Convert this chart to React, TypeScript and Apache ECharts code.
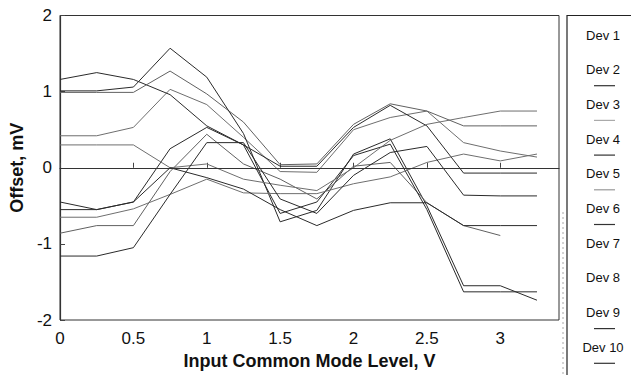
import React, { useEffect, useRef } from "react";
import * as echarts from "echarts";

const xLevels = [0, 0.25, 0.5, 0.75, 1, 1.25, 1.5, 1.75, 2, 2.25, 2.5, 2.75, 3, 3.25];

const dev1 = [0.42, 0.42, 0.53, 1.03, 0.83, 0.4, -0.05, -0.06, 0.5, 0.66, 0.745, 0.33, 0.22, 0.14];
const dev2 = [1.16, 1.25, 1.16, 0.96, 0.55, 0.3, 0.02, 0.02, 0.53, 0.82, 0.55, -0.07, -0.07, -0.07];
const dev3 = [0.99, 0.99, 0.99, 1.27, 0.97, 0.6, 0.04, 0.05, 0.57, 0.84, 0.745, 0.55, 0.55, 0.55];
const dev4 = [1.01, 1.01, 1.06, 1.57, 1.19, 0.45, -0.71, -0.56, 0.18, 0.38, -0.5, -1.55, -1.55, -1.74];
const dev5 = [-0.86, -0.76, -0.76, -0.05, 0.44, 0.05, -0.15, -0.41, 0.02, 0.07, -0.46, -0.76, -0.89, null];
const dev6 = [-0.45, -0.55, -0.45, 0.25, 0.53, 0.3, -0.6, -0.45, 0.16, 0.31, -0.55, -1.63, -1.63, -1.63];
const dev7 = [0.3, 0.3, 0.3, 0.0, 0.05, -0.15, -0.23, -0.3, 0.0, 0.36, 0.57, 0.66, 0.745, 0.745];
const dev8 = [-0.65, -0.65, -0.54, -0.35, -0.15, -0.33, -0.34, -0.34, -0.21, -0.12, 0.07, 0.18, 0.09, 0.18];
const dev9 = [-0.55, -0.55, -0.45, 0.0, -0.13, -0.28, -0.55, -0.76, -0.56, -0.46, -0.46, -0.76, -0.76, -0.76];
const dev10 = [-1.16, -1.16, -1.05, -0.35, 0.33, 0.33, -0.41, -0.6, -0.1, 0.2, 0.28, -0.36, -0.37, -0.37];

const devNames = ["Dev 1", "Dev 2", "Dev 3", "Dev 4", "Dev 5", "Dev 6", "Dev 7", "Dev 8", "Dev 9", "Dev 10"];
const devValues = [dev1, dev2, dev3, dev4, dev5, dev6, dev7, dev8, dev9, dev10];
const devColors = ["#6e6e6e", "#2a2a2a", "#606060", "#2a2a2a", "#606060", "#2a2a2a", "#6e6e6e", "#6e6e6e", "#2a2a2a", "#2a2a2a"];
const legendLineColors = [null, "#333", "#aaa", "#333", "#999", "#333", null, null, "#333", "#333"];

const FONT = "'Liberation Sans', Arial, sans-serif";

export default function App() {
  const ref = useRef<HTMLDivElement>(null);

  useEffect(() => {
    document.body.style.margin = "0";
    if (!ref.current) return;
    const chart = echarts.init(ref.current, undefined, { renderer: "svg" });

    const series: any[] = devValues.map((vals, i) => ({
      name: devNames[i],
      type: "line",
      symbol: "none",
      silent: true,
      data: xLevels
        .map((x, j) => [x, vals[j]])
        .filter((p) => p[1] !== null && p[1] !== undefined),
      lineStyle: { color: devColors[i], width: 1 },
      itemStyle: { color: devColors[i] },
      z: 3,
    }));

    series[0].markLine = {
      silent: true,
      symbol: "none",
      label: { show: false },
      lineStyle: { color: "#333", width: 1, type: "solid" },
      data: [{ yAxis: 0 }],
    };

    const graphics: any[] = [
      {
        type: "rect",
        shape: { x: 567, y: 15.5, width: 80, height: 380 },
        style: { fill: "#fff", stroke: "#222", lineWidth: 1.2 },
        z: 10,
      },
      {
        type: "line",
        shape: { x1: 563, y1: 212, x2: 563, y2: 375 },
        style: { stroke: "#aaa", lineWidth: 1, lineDash: [2, 3] },
        z: 10,
      },
    ];
    devNames.forEach((name, i) => {
      const cy = 35 + i * 34.7;
      graphics.push({
        type: "text",
        x: 603,
        y: cy,
        style: {
          text: name,
          fill: "#111",
          font: `13px ${FONT}`,
          textAlign: "center",
          textVerticalAlign: "middle",
        },
        z: 11,
      });
      const lc = legendLineColors[i];
      if (lc) {
        graphics.push({
          type: "line",
          shape: { x1: 594, y1: cy + 16, x2: 615, y2: cy + 16 },
          style: { stroke: lc, lineWidth: 1.2 },
          z: 11,
        });
      }
    });

    chart.setOption({
      animation: false,
      backgroundColor: "#fff",
      grid: {
        left: 59,
        right: 72,
        top: 15.5,
        bottom: 53,
        show: true,
        borderColor: "#333",
        borderWidth: 1,
        backgroundColor: "transparent",
      },
      xAxis: {
        type: "value",
        min: 0,
        max: 3.4,
        interval: 0.5,
        name: "Input Common Mode Level, V",
        nameLocation: "middle",
        nameGap: 32,
        nameTextStyle: { fontFamily: FONT, fontWeight: "bold", fontSize: 18, color: "#111" },
        axisLine: { show: true, lineStyle: { color: "#333", width: 1.2 } },
        axisTick: { show: true, inside: true, length: 5, lineStyle: { color: "#444" } },
        axisLabel: {
          showMaxLabel: false,
          margin: 10,
          fontFamily: FONT,
          fontSize: 17,
          color: "#111",
        },
        splitLine: { show: false },
      },
      yAxis: {
        type: "value",
        min: -2,
        max: 2,
        interval: 1,
        name: "Offset, mV",
        nameLocation: "middle",
        nameGap: 33,
        nameRotate: 90,
        nameTextStyle: { fontFamily: FONT, fontWeight: "bold", fontSize: 18, color: "#111" },
        axisLine: { show: true, lineStyle: { color: "#333", width: 1.2 } },
        axisTick: { show: true, inside: true, length: 5, lineStyle: { color: "#444" } },
        axisLabel: { margin: 8, fontFamily: FONT, fontSize: 17, color: "#111" },
        splitLine: { show: false },
      },
      series,
      graphic: graphics,
    });

    return () => {
      chart.dispose();
    };
  }, []);

  return <div ref={ref} style={{ width: 631, height: 375 }} />;
}
